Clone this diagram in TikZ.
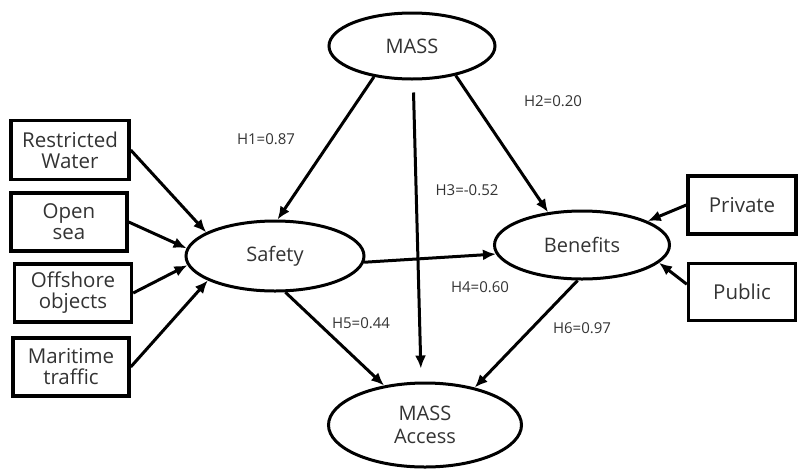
\documentclass[tikz,border=0pt]{standalone}
\usepackage{fontspec}
\setmainfont{Open Sans}
\usepackage{tikz}
\usetikzlibrary{arrows.meta,shapes.geometric}

\begin{document}
\begin{tikzpicture}[
    x=1pt, y=-1pt, >={Latex[length=13pt,width=11pt]},
    latent/.style={draw, ellipse, line width=3pt, inner sep=0pt, align=center, text=black!80, font=\fontsize{20}{23}\selectfont},
    obs/.style={draw, line width=3.4pt, inner sep=0pt, align=center, text=black!80, font=\fontsize{20.5}{21}\selectfont},
    path/.style={->, line width=3pt},
    lbl/.style={text=black!80, font=\fontsize{15}{17}\selectfont},
]
\useasboundingbox (0,0) rectangle (799,472);

% latent variables
\node[latent, minimum width=166, minimum height=66] (mass)    at (412,46)  {MASS};
\node[latent, minimum width=178, minimum height=70] (safety)  at (275,256) {Safety};
\node[latent, minimum width=175, minimum height=68] (benefit) at (582,245) {Benefits};
\node[latent, minimum width=193, minimum height=84] (access)  at (425,425) {MASS\\Access};

% indicators
\node[obs, minimum width=118, minimum height=59] (rw)   at (70,150)  {Restricted\\Water};
\node[obs, minimum width=116, minimum height=58] (open) at (69,222)  {Open\\sea};
\node[obs, minimum width=117, minimum height=58] (off)  at (73,293)  {Offshore\\objects};
\node[obs, minimum width=116, minimum height=58] (mar)  at (71,367)  {Maritime\\traffic};
\node[obs, minimum width=108, minimum height=58] (priv) at (742,205) {Private};
\node[obs, minimum width=107, minimum height=57] (pub)  at (742,292) {Public};

% indicators into constructs
\draw[path] (rw.east)   -- (safety.161);
\draw[path] (open.east) -- (safety.175);
\draw[path] (off.east)  -- (safety.186);
\draw[path] (mar.east)  -- (safety.200);
\draw[path] (priv.west) -- (benefit.20);
\draw[path] (pub.172)   -- (benefit.347);

% hypotheses
\draw[path] (mass.219) -- (safety.86);
\draw[path] (mass.326) -- (benefit.136);
\draw[path, shorten <=12pt, shorten >=13pt] (mass.272) -- (access.95);
\draw[path] (safety.356) -- (benefit.186);
\draw[path] (safety.286) -- (access.136);
\draw[path] (benefit.263) -- (access.37);

\node[lbl] (h1) at (266,139) {H1=0.87};
\node[lbl] (h2) at (553,101) {H2=0.20};
\node[lbl] (h3) at (467,190) {H3=-0.52};
\node[lbl] (h4) at (480,287) {H4=0.60};
\node[lbl] (h5) at (361,323) {H5=0.44};
\node[lbl] (h6) at (582,328) {H6=0.97};
\end{tikzpicture}
\end{document}
